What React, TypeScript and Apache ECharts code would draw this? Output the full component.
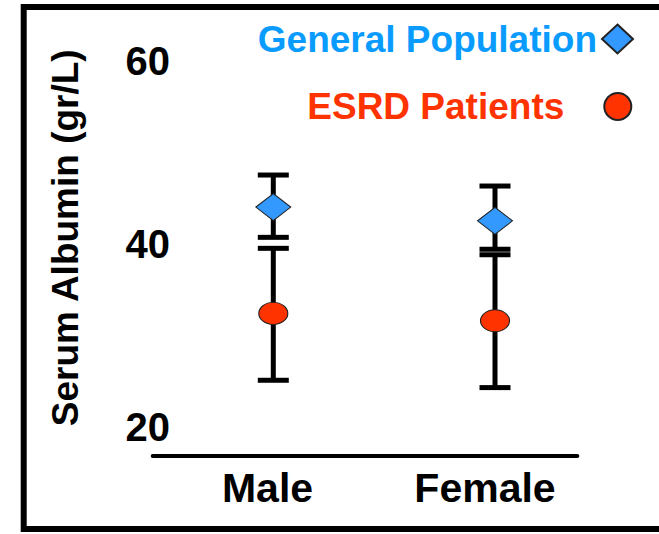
import React, { useEffect, useRef } from "react";
import * as echarts from "echarts";

// Serum albumin (g/L): mean with range bars, by sex
const categories = ["Male", "Female"];
const generalMean = [44.0, 42.5];
const generalLow = [40.7, 39.4];
const generalHigh = [47.5, 46.3];
const esrdMean = [32.4, 31.6];
const esrdLow = [25.1, 24.3];
const esrdHigh = [39.5, 38.8];
const yMin = 20;
const yMax = 60;
const yStep = 20;

const GENERAL = "General Population";
const ESRD = "ESRD Patients";
const FONT = "'Liberation Sans', Arial, Helvetica, sans-serif";
const ELLIPSE = "path://M0,50 A50,50 0 1,1 100,50 A50,50 0 1,1 0,50 Z";

const rangeItem = (params: any, api: any) => {
  const x = api.value(0);
  const top = api.coord([x, api.value(2)]);
  const bot = api.coord([x, api.value(1)]);
  const half = 15.5;
  const style = { stroke: "#000", lineWidth: 5 };
  return {
    type: "group",
    children: [
      { type: "line", shape: { x1: top[0], y1: top[1], x2: bot[0], y2: bot[1] }, style },
      { type: "line", shape: { x1: top[0] - half, y1: top[1], x2: top[0] + half, y2: top[1] }, style },
      { type: "line", shape: { x1: bot[0] - half, y1: bot[1], x2: bot[0] + half, y2: bot[1] }, style },
    ],
  };
};

export default function App() {
  const ref = useRef<HTMLDivElement>(null);

  useEffect(() => {
    if (!ref.current) return;
    const chart = echarts.init(ref.current, null, { renderer: "svg" });
    const labelShift = [11.6, 20];
    const catLabel = (i: number) => ({
      fontSize: 41,
      fontWeight: "bold",
      fontFamily: FONT,
      color: "#000",
      padding: [0, labelShift[i], 0, 0],
    });
    chart.setOption({
      animation: false,
      backgroundColor: "#fff",
      textStyle: { fontFamily: FONT },
      graphic: [
        {
          type: "rect",
          shape: { x: 23.7, y: 7, width: 700, height: 522 },
          style: { fill: "none", stroke: "#000", lineWidth: 6 },
          silent: true,
        },
      ],
      legend: [
        {
          data: [{ name: GENERAL, icon: "diamond" }],
          orient: "vertical",
          align: "right",
          right: 25,
          top: 20.5,
          padding: 0,
          itemWidth: 31,
          itemHeight: 29,
          selectedMode: false,
          textStyle: {
            color: "#0A9BFF",
            fontSize: 37,
            fontWeight: "bold",
            fontFamily: FONT,
            padding: [0, 0, 0, 0],
          },
        },
        {
          data: [{ name: ESRD, icon: ELLIPSE }],
          orient: "vertical",
          align: "right",
          right: 26.7,
          top: 88,
          padding: 0,
          itemWidth: 29,
          itemHeight: 27,
          selectedMode: false,
          textStyle: {
            color: "#FF3300",
            fontSize: 37,
            fontWeight: "bold",
            fontFamily: FONT,
            padding: [0, 34, 0, 0],
          },
        },
      ],
      grid: [
        { left: 162.45, top: 60.5, width: 443.4, height: 366.5 },
        { left: 152.7, top: 60.5, width: 424.6, height: 395.5 },
      ],
      xAxis: [
        {
          type: "category",
          gridIndex: 0,
          data: categories,
          axisLine: { show: false },
          axisTick: { show: false },
          axisLabel: {
            interval: 0,
            hideOverlap: false,
            margin: 40,
            color: "#000",
            fontSize: 41,
            fontWeight: "bold",
            fontFamily: FONT,
            formatter: (v: string, i: number) => `{c${i}|${v}}`,
            rich: { c0: catLabel(0), c1: catLabel(1) },
          },
        },
        {
          type: "category",
          gridIndex: 1,
          data: categories,
          axisLine: { show: true, lineStyle: { color: "#000", width: 4 } },
          axisTick: { show: false },
          axisLabel: { show: false },
        },
      ],
      yAxis: [
        {
          type: "value",
          gridIndex: 0,
          min: yMin,
          max: yMax,
          interval: yStep,
          axisLine: { show: false },
          axisTick: { show: false },
          splitLine: { show: false },
          axisLabel: {
            margin: -7.5,
            color: "#000",
            fontSize: 40,
            fontWeight: "bold",
            fontFamily: FONT,
          },
          name: "Serum Albumin (gr/L)",
          nameLocation: "middle",
          nameGap: 78,
          nameTextStyle: {
            color: "#000",
            fontSize: 37,
            fontWeight: "bold",
            fontFamily: FONT,
            padding: [0, 0, 0, 12],
          },
        },
        { type: "value", gridIndex: 1, show: false, min: yMin, max: yMax },
      ],
      series: [
        {
          name: GENERAL + " range",
          type: "custom",
          xAxisIndex: 0,
          yAxisIndex: 0,
          renderItem: rangeItem,
          encode: { x: 0, y: [1, 2] },
          data: categories.map((_, i) => [i, generalLow[i], generalHigh[i]]),
          z: 2,
        },
        {
          name: ESRD + " range",
          type: "custom",
          xAxisIndex: 0,
          yAxisIndex: 0,
          renderItem: rangeItem,
          encode: { x: 0, y: [1, 2] },
          data: categories.map((_, i) => [i, esrdLow[i], esrdHigh[i]]),
          z: 2,
        },
        {
          name: GENERAL,
          type: "scatter",
          xAxisIndex: 0,
          yAxisIndex: 0,
          symbol: "diamond",
          symbolSize: [35, 27],
          symbolKeepAspect: false,
          itemStyle: { color: "#3399FF", borderColor: "#222", borderWidth: 1, opacity: 1 },
          data: generalMean,
          z: 5,
        },
        {
          name: ESRD,
          type: "scatter",
          xAxisIndex: 0,
          yAxisIndex: 0,
          symbol: ELLIPSE,
          symbolSize: [29, 22],
          symbolKeepAspect: false,
          itemStyle: { color: "#FF3300", borderColor: "#222", borderWidth: 1, opacity: 1 },
          data: esrdMean,
          z: 5,
        },
      ],
    });
    return () => chart.dispose();
  }, []);

  return (
    <div
      ref={ref}
      style={{ position: "fixed", left: 0, top: 0, width: 659, height: 534, background: "#fff" }}
    />
  );
}
